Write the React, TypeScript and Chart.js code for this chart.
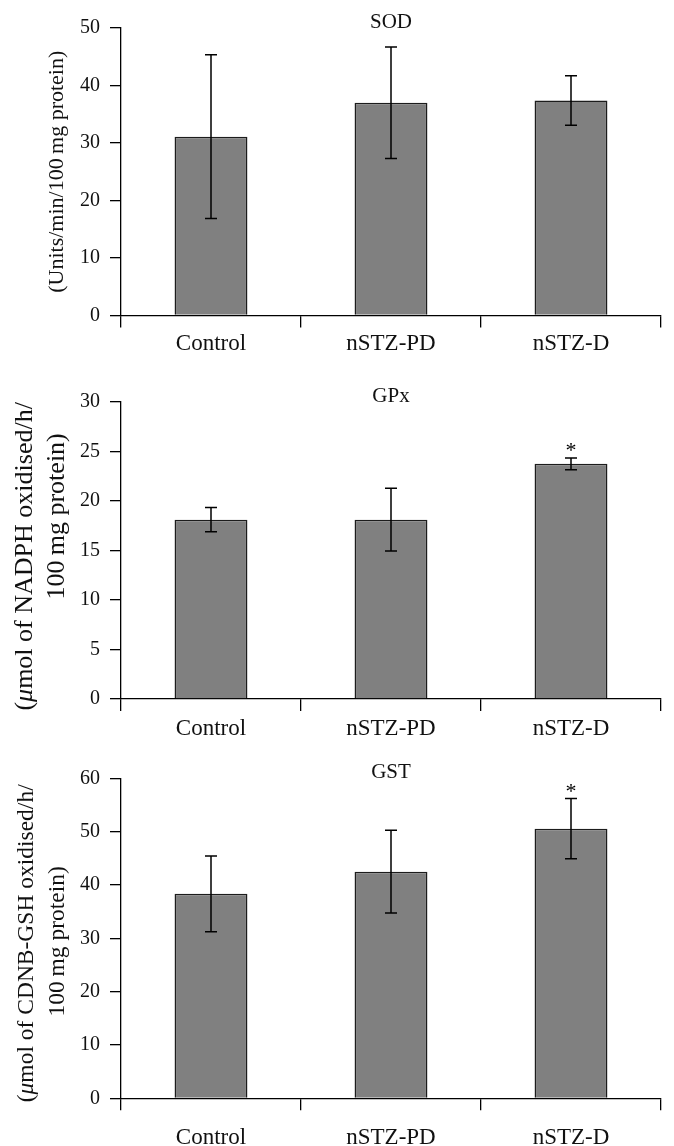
import React, { useEffect, useRef } from 'react';
import { Chart, registerables } from 'chart.js';

Chart.register(...registerables);

// ---------- data ----------
const categories = ['Control', 'nSTZ-PD', 'nSTZ-D'];

const sodTitle = 'SOD';
const sodMeans = [31.1, 37.0, 37.4];
const sodErrors = [14.25, 9.7, 4.3];
const sodMarks = ['', '', ''];
const sodTicks = [0, 10, 20, 30, 40, 50];
const sodAxisTitle: [string, boolean][][] = [[['(Units/min/100\u2009mg protein)', false]]];

const gpxTitle = 'GPx';
const gpxMeans = [18.1, 18.1, 23.73];
const gpxErrors = [1.23, 3.16, 0.6];
const gpxMarks = ['', '', '*'];
const gpxTicks = [0, 5, 10, 15, 20, 25, 30];
const gpxAxisTitle: [string, boolean][][] = [
  [['(', false], ['\u03bc', true], ['mol of NADPH oxidised/h/', false]],
  [['100\u2009mg protein)', false]],
];

const gstTitle = 'GST';
const gstMeans = [38.35, 42.5, 50.55];
const gstErrors = [7.1, 7.75, 5.65];
const gstMarks = ['', '', '*'];
const gstTicks = [0, 10, 20, 30, 40, 50, 60];
const gstAxisTitle: [string, boolean][][] = [
  [['(', false], ['\u03bc', true], ['mol of CDNB-GSH oxidised/h/', false]],
  [['100\u2009mg protein)', false]],
];

// ---------- styling / layout ----------
const FAMILY = "'Liberation Serif', 'Times New Roman', serif";
const WIDTH = 674;
const X_AXIS_H = 50;

const errorBarPlugin = {
  id: 'errorBars',
  afterDatasetsDraw(chart: any, _args: any, opts: any) {
    const { ctx } = chart;
    const yScale = chart.scales.y;
    const meta = chart.getDatasetMeta(0);
    const values = chart.data.datasets[0].data as number[];
    ctx.save();
    ctx.strokeStyle = opts.color;
    ctx.lineWidth = opts.lineWidth;
    meta.data.forEach((el: any, i: number) => {
      const e = opts.errors[i];
      const v = values[i];
      const x = el.x;
      const top = yScale.getPixelForValue(v + e);
      const bot = yScale.getPixelForValue(v - e);
      ctx.beginPath();
      ctx.moveTo(x, top);
      ctx.lineTo(x, bot);
      ctx.moveTo(x - opts.cap, top);
      ctx.lineTo(x + opts.cap, top);
      ctx.moveTo(x - opts.cap, bot);
      ctx.lineTo(x + opts.cap, bot);
      ctx.stroke();
      const mark = opts.marks[i];
      if (mark) {
        ctx.fillStyle = opts.color;
        ctx.font = opts.markFont;
        ctx.textAlign = 'center';
        ctx.textBaseline = 'alphabetic';
        ctx.fillText(mark, x, top - opts.markGap);
      }
    });
    ctx.restore();
  },
};

const panelTitlePlugin = {
  id: 'panelTitle',
  afterDraw(chart: any, _args: any, opts: any) {
    const { ctx, chartArea } = chart;
    ctx.save();
    ctx.font = opts.font;
    ctx.fillStyle = opts.color;
    ctx.textAlign = 'center';
    ctx.textBaseline = 'alphabetic';
    ctx.fillText(opts.text, (chartArea.left + chartArea.right) / 2, chartArea.top + opts.dy);
    ctx.restore();
  },
};

const axisTitlePlugin = {
  id: 'axisTitle',
  afterDraw(chart: any, _args: any, opts: any) {
    const { ctx, chartArea } = chart;
    const midY = (chartArea.top + chartArea.bottom) / 2;
    (opts.lines as [string, boolean][][]).forEach((segments, li) => {
      ctx.save();
      const fonts = segments.map(([, it]) => `${it ? 'italic ' : ''}${opts.size}px ${FAMILY}`);
      let total = 0;
      const widths = segments.map(([t], k) => {
        ctx.font = fonts[k];
        const w = ctx.measureText(t).width;
        total += w;
        return w;
      });
      ctx.translate(opts.x[li], midY + opts.dy[li]);
      ctx.rotate(-Math.PI / 2);
      ctx.textBaseline = 'middle';
      ctx.textAlign = 'left';
      ctx.fillStyle = opts.color;
      let cx = -total / 2;
      segments.forEach(([t], k) => {
        ctx.font = fonts[k];
        ctx.fillText(t, cx, 0);
        cx += widths[k];
      });
      ctx.restore();
    });
  },
};

type Panel = {
  title: string;
  means: number[];
  errors: number[];
  marks: string[];
  ticks: number[];
  axisTitle: [string, boolean][][];
  top: number;
  height: number;
  areaTop: number;
  areaBottom: number;
  xPad: number;
  axisSize: number;
  axisX: number[];
  axisDy: number[];
};

const panels: Panel[] = [
  {
    title: sodTitle, means: sodMeans, errors: sodErrors, marks: sodMarks, ticks: sodTicks, axisTitle: sodAxisTitle,
    top: 0, height: 366, areaTop: 28, areaBottom: 315.5, xPad: 3, axisSize: 22, axisX: [57], axisDy: [0],
  },
  {
    title: gpxTitle, means: gpxMeans, errors: gpxErrors, marks: gpxMarks, ticks: gpxTicks, axisTitle: gpxAxisTitle,
    top: 360, height: 390, areaTop: 41.7, areaBottom: 339, xPad: 4, axisSize: 26, axisX: [25, 57], axisDy: [6, -34],
  },
  {
    title: gstTitle, means: gstMeans, errors: gstErrors, marks: gstMarks, ticks: gstTicks, axisTitle: gstAxisTitle,
    top: 750, height: 400, areaTop: 28.3, areaBottom: 348.3, xPad: 14, axisSize: 23.5, axisX: [27, 58], axisDy: [5, 3],
  },
];

function makeChart(canvas: HTMLCanvasElement, p: Panel) {
  const tickMin = p.ticks[0];
  const tickMax = p.ticks[p.ticks.length - 1];
  const step = p.ticks[1] - p.ticks[0];
  return new Chart(canvas, {
    type: 'bar',
    data: {
      labels: categories,
      datasets: [
        {
          data: p.means,
          backgroundColor: '#808080',
          borderColor: '#1c1c1c',
          borderWidth: 1.5,
          barPercentage: 0.405,
          categoryPercentage: 1,
        },
      ],
    },
    options: {
      responsive: false,
      animation: false,
      devicePixelRatio: 1,
      layout: {
        padding: {
          top: p.areaTop,
          left: 0,
          right: 13,
          bottom: p.height - p.areaBottom - X_AXIS_H,
        },
      },
      plugins: {
        legend: { display: false },
        tooltip: { enabled: false },
        title: { display: false },
        errorBars: {
          errors: p.errors,
          marks: p.marks,
          cap: 6,
          color: '#000',
          lineWidth: 1.5,
          markFont: `22px ${FAMILY}`,
          markGap: 1,
        },
        panelTitle: { text: p.title, font: `21px ${FAMILY}`, color: '#111', dy: 0 },
        axisTitle: { lines: p.axisTitle, size: p.axisSize, x: p.axisX, dy: p.axisDy, color: '#111' },
      } as any,
      scales: {
        x: {
          grid: {
            display: true,
            drawOnChartArea: false,
            drawTicks: true,
            tickLength: 12,
            color: '#000',
            lineWidth: 1.3,
            offset: true,
          },
          border: { display: true, color: '#000', width: 1.3 },
          ticks: {
            color: '#111',
            font: { family: FAMILY, size: 23 },
            padding: p.xPad,
            maxRotation: 0,
            autoSkip: false,
          },
          afterFit: (s: any) => {
            s.height = X_AXIS_H;
          },
        },
        y: {
          min: tickMin,
          max: tickMax,
          grid: {
            drawOnChartArea: false,
            drawTicks: true,
            tickLength: 11,
            color: '#000',
            lineWidth: 1.3,
          },
          border: { display: true, color: '#000', width: 1.3 },
          ticks: {
            stepSize: step,
            color: '#111',
            font: { family: FAMILY, size: 20 },
            padding: 10,
          },
          afterFit: (s: any) => {
            s.width = 121;
          },
        },
      },
    } as any,
    plugins: [errorBarPlugin, panelTitlePlugin, axisTitlePlugin],
  });
}

export default function App() {
  const refs = [
    useRef<HTMLCanvasElement>(null),
    useRef<HTMLCanvasElement>(null),
    useRef<HTMLCanvasElement>(null),
  ];

  useEffect(() => {
    const charts = panels.map((p, i) => makeChart(refs[i].current as HTMLCanvasElement, p));
    return () => charts.forEach((c) => c.destroy());
  }, []);

  return (
    <div
      style={{
        position: 'absolute',
        left: 0,
        top: 0,
        width: WIDTH,
        height: 1146,
        overflow: 'hidden',
        background: '#fff',
      }}
    >
      {panels.map((p, i) => (
        <canvas
          key={i}
          ref={refs[i]}
          width={WIDTH}
          height={p.height}
          style={{ position: 'absolute', left: 0, top: p.top, width: WIDTH, height: p.height, display: 'block' }}
        />
      ))}
    </div>
  );
}
